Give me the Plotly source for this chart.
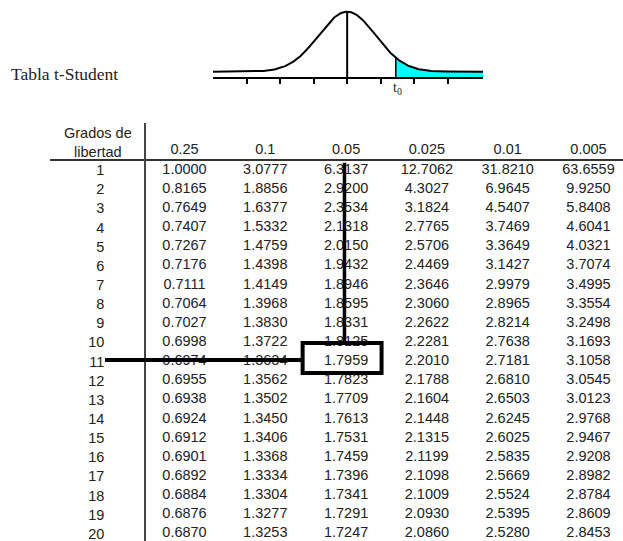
import numpy as np
import plotly.graph_objects as go

ALPHAS = ["0.25", "0.1", "0.05", "0.025", "0.01", "0.005"]
DF = list(range(1, 21))

T_025 = [1.0000, 0.8165, 0.7649, 0.7407, 0.7267, 0.7176, 0.7111, 0.7064, 0.7027, 0.6998,
         0.6974, 0.6955, 0.6938, 0.6924, 0.6912, 0.6901, 0.6892, 0.6884, 0.6876, 0.6870]
T_010 = [3.0777, 1.8856, 1.6377, 1.5332, 1.4759, 1.4398, 1.4149, 1.3968, 1.3830, 1.3722,
         1.3634, 1.3562, 1.3502, 1.3450, 1.3406, 1.3368, 1.3334, 1.3304, 1.3277, 1.3253]
T_005 = [6.3137, 2.9200, 2.3534, 2.1318, 2.0150, 1.9432, 1.8946, 1.8595, 1.8331, 1.8125,
         1.7959, 1.7823, 1.7709, 1.7613, 1.7531, 1.7459, 1.7396, 1.7341, 1.7291, 1.7247]
T_0025 = [12.7062, 4.3027, 3.1824, 2.7765, 2.5706, 2.4469, 2.3646, 2.3060, 2.2622, 2.2281,
          2.2010, 2.1788, 2.1604, 2.1448, 2.1315, 2.1199, 2.1098, 2.1009, 2.0930, 2.0860]
T_001 = [31.8210, 6.9645, 4.5407, 3.7469, 3.3649, 3.1427, 2.9979, 2.8965, 2.8214, 2.7638,
         2.7181, 2.6810, 2.6503, 2.6245, 2.6025, 2.5835, 2.5669, 2.5524, 2.5395, 2.5280]
T_0005 = [63.6559, 9.9250, 5.8408, 4.6041, 4.0321, 3.7074, 3.4995, 3.3554, 3.2498, 3.1693,
          3.1058, 3.0545, 3.0123, 2.9768, 2.9467, 2.9208, 2.8982, 2.8784, 2.8609, 2.8453]
COLUMNS = [T_025, T_010, T_005, T_0025, T_001, T_0005]

HIGHLIGHT_DF = 11
HIGHLIGHT_COL = ALPHAS.index("0.05")

# bell curve sketch (illustration only)
T0 = 1.45
SIGMA = 0.85
LIFT = 0.093

W, H = 623, 541
FONT = "Arial, Liberation Sans, sans-serif"
SERIF = "Times New Roman, Liberation Serif, serif"
TXT = "#222222"


def bell(x):
    return LIFT + np.exp(-np.asarray(x) ** 2 / (2 * SIGMA ** 2))


fig = go.Figure()

xs = np.linspace(-4, 4.05, 300)
xt = np.linspace(T0, 4.05, 120)
fig.add_trace(go.Scatter(x=xt, y=bell(xt), mode="lines", line=dict(width=0),
                         fill="tozeroy", fillcolor="#00FFFF", hoverinfo="skip"))
fig.add_trace(go.Scatter(x=xs, y=bell(xs), mode="lines", line=dict(color="black", width=2),
                         hoverinfo="skip"))
fig.add_trace(go.Scatter(x=[0, 0], y=[0, bell(0)], mode="lines",
                         line=dict(color="black", width=2), hoverinfo="skip"))
fig.add_trace(go.Scatter(x=[T0, T0], y=[0, bell(T0)], mode="lines",
                         line=dict(color="black", width=1.5), hoverinfo="skip"))

# table: header row (row 0) + cells
cx, cy, ct = [], [], []
for j, a in enumerate(ALPHAS):
    cx.append(j)
    cy.append(0)
    ct.append(a)
for j, col in enumerate(COLUMNS):
    for d, v in zip(DF, col):
        cx.append(j)
        cy.append(d)
        ct.append(f"{v:.4f}")
fig.add_trace(go.Scatter(x=cx, y=cy, text=ct, mode="text", xaxis="x2", yaxis="y2",
                         textfont=dict(family=FONT, size=14.5, color=TXT),
                         hoverinfo="skip"))

px0 = 184.5
pxs = 80.8
row_px = 19.15
row1_px = 170


def xpx(p):
    return (p - px0) / pxs


def ypx(p):
    return 1 + (p - row1_px) / row_px


hx, hy = HIGHLIGHT_COL, HIGHLIGHT_DF
box = dict(x0=hx - 0.538, x1=hx + 0.439, y0=hy - 0.966, y1=hy + 0.60)
shapes = [
    dict(type="rect", xref="x2", yref="y2", **box, line=dict(color="black", width=4)),
    dict(type="line", xref="x2", yref="y2", x0=hx - 0.02, x1=hx - 0.02,
         y0=ypx(162.7), y1=box["y0"], line=dict(color="black", width=3.5)),
    dict(type="line", xref="x2", yref="y2", x0=xpx(105), x1=box["x0"],
         y0=hy - 0.08, y1=hy - 0.08, line=dict(color="black", width=4)),
]

fig.update_layout(
    width=W, height=H,
    margin=dict(l=0, r=0, t=0, b=0),
    paper_bgcolor="white", plot_bgcolor="white",
    showlegend=False,
    shapes=shapes,
    xaxis=dict(domain=[213 / W, 483 / W], range=[-4, 4.05], showgrid=False, zeroline=False,
               showline=True, linecolor="black", linewidth=2,
               ticks="outside", ticklen=5, tickwidth=2, tickcolor="black",
               tickvals=[-3, -2, -1, 0, 1, 2, 3], showticklabels=False, fixedrange=True),
    yaxis=dict(domain=[1 - 77.3 / H, 1 - 5.3 / H], range=[0, 1.2], visible=False,
               fixedrange=True),
    xaxis2=dict(domain=[50 / W, 1], range=[xpx(50), xpx(623)], anchor="free",
                position=1 - 160 / H, side="top", showgrid=False, zeroline=False,
                showline=True, linecolor="#333333", linewidth=2, ticks="",
                showticklabels=False, fixedrange=True),
    yaxis2=dict(domain=[0, 1 - 123 / H], range=[ypx(541), ypx(123)], anchor="free",
                position=145 / W, showgrid=False, zeroline=False,
                showline=True, linecolor="#444444", linewidth=1.5, ticks="",
                tickvals=DF, ticktext=[str(d) for d in DF], ticklabelstandoff=37,
                ticklabeloverflow="allow",
                tickfont=dict(family=FONT, size=14.5, color=TXT), fixedrange=True),
    annotations=[
        dict(text="Tabla t-Student", xref="paper", yref="paper", x=9 / W, y=1 - 74 / H,
             xanchor="left", yanchor="middle", showarrow=False,
             font=dict(family=SERIF, size=17.5, color=TXT)),
        dict(text="t<sub>0</sub>", xref="x", yref="paper", x=T0, y=1 - 88 / H,
             xanchor="left", yanchor="middle", xshift=-5, showarrow=False,
             font=dict(family=SERIF, size=14, color=TXT)),
        dict(text="Grados de<br>libertad", xref="paper", yref="paper", x=97.5 / W,
             y=1 - 142 / H, xanchor="center", yanchor="middle", showarrow=False,
             font=dict(family=FONT, size=14.5, color=TXT)),
    ],
)

fig.write_html("out.html", config={"displayModeBar": False},
               post_script="document.body.style.margin='0';")
